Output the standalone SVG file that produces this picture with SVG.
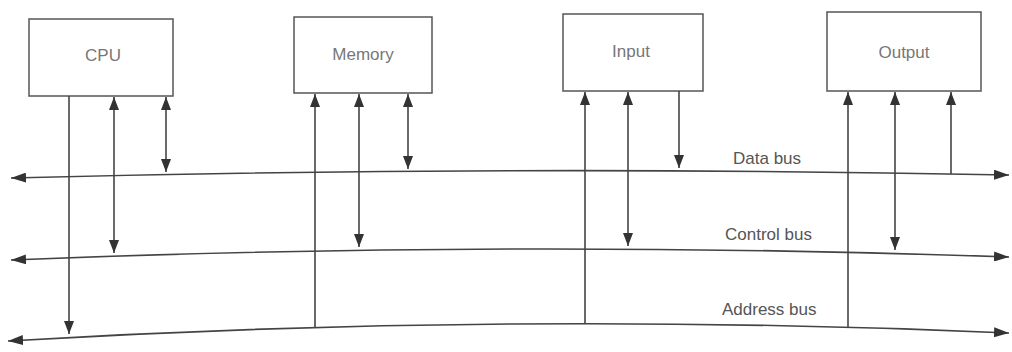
<svg xmlns="http://www.w3.org/2000/svg" width="1012" height="352" viewBox="0 0 1012 352">
<style>
.box{fill:#ffffff;stroke:#555;stroke-width:1.5}
.lbl{font-family:"Liberation Sans",Arial,sans-serif;font-size:17px;fill:#777;text-anchor:middle}
.bl{font-family:"Liberation Sans",Arial,sans-serif;font-size:17px;fill:#555}
.bus{fill:none;stroke:#444;stroke-width:1.6}
.ln{fill:none;stroke:#444;stroke-width:1.6}
.one{marker-end:url(#ah)}
.two{marker-start:url(#ah);marker-end:url(#ah)}
.bus.two{marker-start:url(#bh);marker-end:url(#bh)}
</style>
<defs>
<marker id="ah" refX="13" refY="5" markerUnits="userSpaceOnUse" markerWidth="13" markerHeight="10" orient="auto-start-reverse">
<path d="M0,0 L13,5 L0,10 z" fill="#333"/>
</marker>
<marker id="bh" refX="15" refY="5" markerUnits="userSpaceOnUse" markerWidth="15" markerHeight="10" orient="auto-start-reverse">
<path d="M0,0 L15,5 L0,10 z" fill="#333"/>
</marker>
</defs>
<rect width="1012" height="352" fill="#ffffff"/>
<g id="cpu"><rect class="box" x="29" y="19" width="144" height="77"/><text class="lbl" x="103" y="61">CPU</text></g>
<g id="memory"><rect class="box" x="294" y="17" width="138" height="76"/><text class="lbl" x="363" y="60">Memory</text></g>
<g id="input"><rect class="box" x="563" y="14" width="140" height="77"/><text class="lbl" x="631" y="57">Input</text></g>
<g id="output"><rect class="box" x="827" y="12" width="154" height="79"/><text class="lbl" x="904" y="58">Output</text></g>
<g id="connectors">
<path class="bus two" d="M11,178 Q510,165 1009,175"/>
<path class="bus two" d="M11,260 Q510,239.5 1009,257"/>
<path class="bus two" d="M8,341 Q510,311 1009,333"/>
<line class="ln one" x1="69" y1="96" x2="69" y2="334"/>
<line class="ln two" x1="114" y1="97" x2="114" y2="253"/>
<line class="ln two" x1="166" y1="97" x2="166" y2="172"/>
<line class="ln one" x1="315" y1="327.5" x2="315" y2="94"/>
<line class="ln two" x1="359" y1="94" x2="359" y2="247"/>
<line class="ln two" x1="408" y1="94" x2="408" y2="169"/>
<line class="ln one" x1="585" y1="323.7" x2="585" y2="92"/>
<line class="ln two" x1="628" y1="92" x2="628" y2="246"/>
<line class="ln one" x1="679" y1="91" x2="679" y2="168"/>
<line class="ln one" x1="848" y1="327.3" x2="848" y2="92"/>
<line class="ln two" x1="895" y1="92" x2="895" y2="250"/>
<line class="ln one" x1="951" y1="174" x2="951" y2="92"/>
</g>
<g id="labels">
<text class="bl" x="733" y="164">Data bus</text>
<text class="bl" x="725" y="240">Control bus</text>
<text class="bl" x="722" y="315">Address bus</text>
</g>
</svg>
